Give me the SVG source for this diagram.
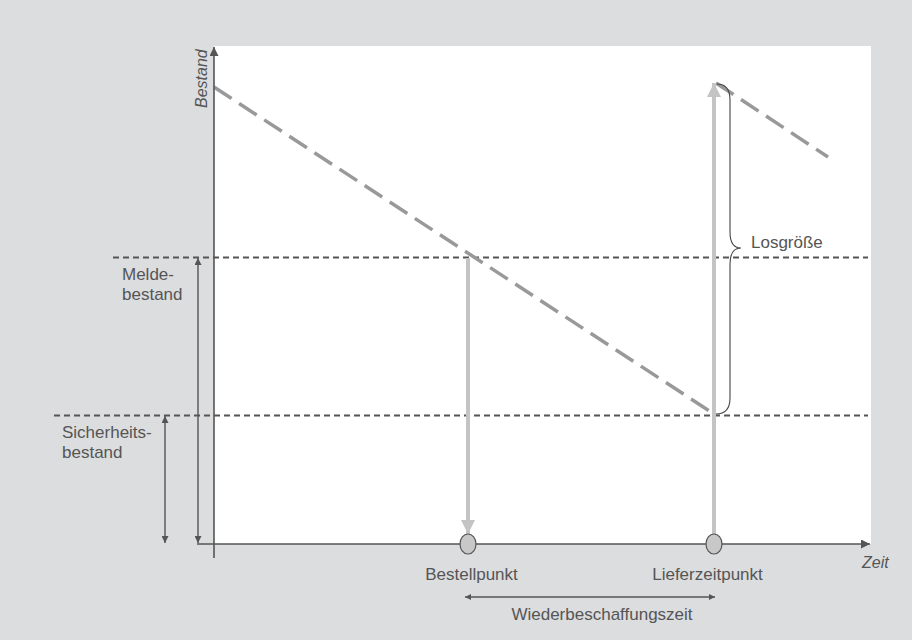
<svg xmlns="http://www.w3.org/2000/svg" width="912" height="640" viewBox="0 0 912 640">
<defs>
<style>
.lbl{font-family:"Liberation Sans","Open Sans",sans-serif;font-size:17px;fill:#555}
.it{font-style:italic;font-size:16px}
.ref{stroke:#555;stroke-width:1.8;stroke-dasharray:6 4;fill:none}
.stock{stroke:#999;stroke-width:3.5;stroke-dasharray:21 9;fill:none}
.ax{stroke:#555;stroke-width:1.6;fill:none}
.dim{stroke:#555;stroke-width:1.4;fill:none}
.flow{stroke:#c4c4c4;stroke-width:4;fill:none}
.pt{fill:#c8c8c8;stroke:#555;stroke-width:1.2}
</style>
<marker id="ah" viewBox="0 0 10 10" refX="10" refY="5" markerWidth="13" markerHeight="7" markerUnits="userSpaceOnUse" orient="auto-start-reverse">
<path d="M0,0 L10,5 L0,10 z" fill="#555"/>
</marker>
<marker id="ahs" viewBox="0 0 10 10" refX="10" refY="5" markerWidth="10" markerHeight="6" markerUnits="userSpaceOnUse" orient="auto-start-reverse">
<path d="M0,0 L10,5 L0,10 z" fill="#555"/>
</marker>
<marker id="ahax" viewBox="0 0 10 10" refX="10" refY="5" markerWidth="16" markerHeight="9" markerUnits="userSpaceOnUse" orient="auto">
<path d="M0,0 L10,5 L0,10 z" fill="#555"/>
</marker>
<marker id="ahg" viewBox="0 0 10 10" refX="10" refY="5" markerWidth="25" markerHeight="14" markerUnits="userSpaceOnUse" orient="auto">
<path d="M0,0 L10,5 L0,10 z" fill="#c4c4c4"/>
</marker>
</defs>
<rect x="0" y="0" width="912" height="640" fill="#dcdddf"/>
<rect x="214" y="46" width="657" height="498" fill="#fff"/>

<g id="connectors">
<line class="ref" x1="113" y1="257.5" x2="868" y2="257.5"/>
<line class="ref" x1="54" y1="415.5" x2="868" y2="415.5"/>
<line class="stock" x1="214" y1="87" x2="714" y2="414"/>
<line class="stock" x1="716" y1="83" x2="828" y2="157"/>
<line class="flow" x1="468" y1="258" x2="468" y2="534" marker-end="url(#ahg)"/>
<line class="flow" x1="714" y1="545" x2="714" y2="83" marker-end="url(#ahg)"/>
<line class="ax" x1="214" y1="558" x2="214" y2="47" marker-end="url(#ahax)"/>
<line class="ax" x1="197" y1="544" x2="870" y2="544" marker-end="url(#ahax)"/>
<line class="dim" x1="198" y1="258" x2="198" y2="543" marker-start="url(#ah)" marker-end="url(#ah)"/>
<line class="dim" x1="165" y1="416" x2="165" y2="543" marker-start="url(#ah)" marker-end="url(#ah)"/>
<line class="dim" x1="465" y1="597" x2="715" y2="597" marker-start="url(#ahs)" marker-end="url(#ahs)"/>
<path d="M717,84 Q730,84 730,100 L730,232 Q730,248 741,248 Q730,248 730,264 L730,398 Q730,414 716,414" stroke="#444" stroke-width="1.1" fill="none"/>
</g>

<g id="bestellpunkt"><ellipse class="pt" cx="468" cy="544" rx="8" ry="10"/><text class="lbl" x="471.5" y="580" text-anchor="middle">Bestellpunkt</text></g>
<g id="lieferzeitpunkt"><ellipse class="pt" cx="714" cy="544" rx="8" ry="10"/><text class="lbl" x="707.5" y="580" text-anchor="middle">Lieferzeitpunkt</text></g>
<g id="wbz"><text class="lbl" x="602" y="620" text-anchor="middle">Wiederbeschaffungszeit</text></g>
<g id="losgroesse"><text class="lbl" x="751" y="248">Losgröße</text></g>
<g id="meldebestand"><text class="lbl" x="122" y="280">Melde-<tspan x="122" dy="20">bestand</tspan></text></g>
<g id="sicherheitsbestand"><text class="lbl" x="62" y="438">Sicherheits-<tspan x="62" dy="20">bestand</tspan></text></g>
<g id="achsen"><text class="lbl it" transform="translate(207,108) rotate(-90)">Bestand</text><text class="lbl it" x="862" y="568">Zeit</text></g>
</svg>
